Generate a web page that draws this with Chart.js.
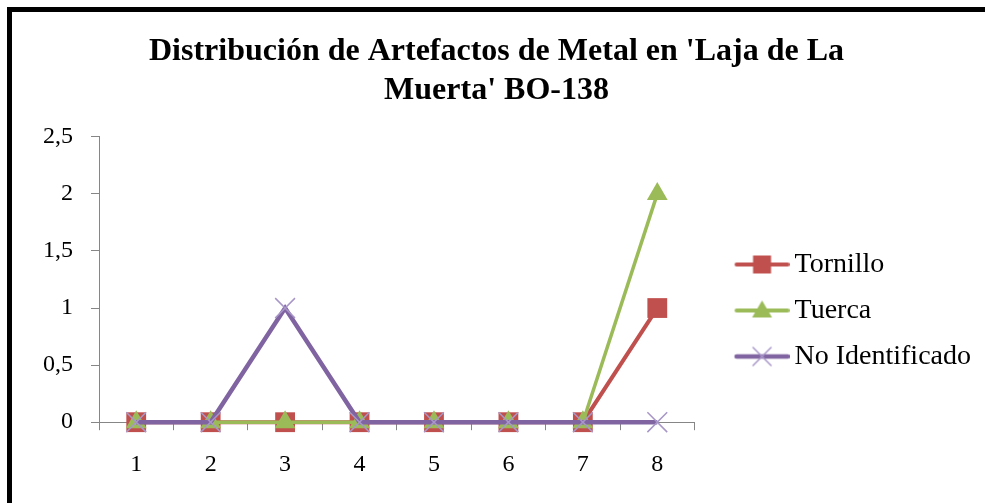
<!DOCTYPE html>
<html>
<head>
<meta charset="utf-8">
<script src="https://cdn.jsdelivr.net/npm/chart.js@4"></script>
<style>
  html, body { margin: 0; padding: 0; background: #fff; }
  #frame {
    position: absolute; left: 7px; top: 7px;
    width: 973px; height: 491px;
    border-top: 5px solid #000; border-left: 5px solid #000;
  }
  canvas { display: block; }
</style>
</head>
<body>
<div id="frame"><canvas id="chart" width="973" height="491"></canvas></div>
<script>
// Distribución de Artefactos de Metal — Laja de La Muerta BO-138

const categories = ['1', '2', '3', '4', '5', '6', '7', '8'];
const tornillo = [0, 0, 0, 0, 0, 0, 0, 1];
const tuerca = [0, 0, 0, 0, 0, 0, 0, 2];
const noIdentificado = [0, 0, 1, 0, 0, 0, 0, 0];
const yTickLabels = ['0', '0,5', '1', '1,5', '2', '2,5'];
const titleLines = ["Distribución de Artefactos de Metal en 'Laja de La", "Muerta' BO-138"];

const COLORS = {
  red: '#C0504D',
  green: '#9BBB59',
  purple: '#8064A2',
  purpleLight: '#A796C7',
  axis: '#868686',
};

const SERIF = "'Liberation Serif', 'Times New Roman', serif";

// legend icon: short line with the series marker in the middle
function legendIcon(color, lineWidth, marker) {
  const c = document.createElement('canvas');
  c.width = 86; c.height = 24;
  const g = c.getContext('2d');
  g.strokeStyle = color;
  g.lineWidth = lineWidth;
  g.lineCap = 'round';
  g.beginPath(); g.moveTo(33, 12); g.lineTo(84, 12); g.stroke();
  const cx = 58.5, cy = 12;
  if (marker === 'rect') {
    g.fillStyle = color;
    g.fillRect(cx - 9, cy - 9, 18, 18);
  } else if (marker === 'triangle') {
    g.fillStyle = color;
    g.beginPath();
    g.moveTo(cx, cy - 10); g.lineTo(cx + 10, cy + 7); g.lineTo(cx - 10, cy + 7);
    g.closePath(); g.fill();
  } else {
    g.strokeStyle = COLORS.purpleLight;
    g.lineWidth = 1.5;
    g.beginPath();
    g.moveTo(cx - 9, cy - 9); g.lineTo(cx + 9, cy + 9);
    g.moveTo(cx + 9, cy - 9); g.lineTo(cx - 9, cy + 9);
    g.stroke();
  }
  return c;
}

const legendIcons = [
  legendIcon(COLORS.red, 4, 'rect'),
  legendIcon(COLORS.green, 4, 'triangle'),
  legendIcon(COLORS.purple, 4.5, 'cross'),
];

new Chart(document.getElementById('chart'), {
  type: 'line',
  data: {
    labels: categories,
    datasets: [
      {
        label: 'Tornillo',
        data: tornillo,
        borderColor: COLORS.red,
        borderWidth: 4,
        pointStyle: 'rect',
        pointRadius: 14,
        pointBackgroundColor: COLORS.red,
        pointBorderColor: COLORS.red,
        pointBorderWidth: 0,
        order: 2,
        clip: false,
      },
      {
        label: 'Tuerca',
        data: tuerca,
        borderColor: COLORS.green,
        borderWidth: 3.5,
        pointStyle: 'triangle',
        pointRadius: 12,
        pointBackgroundColor: COLORS.green,
        pointBorderColor: COLORS.green,
        pointBorderWidth: 0,
        order: 1,
        clip: false,
      },
      {
        label: 'No Identificado',
        data: noIdentificado,
        borderColor: COLORS.purple,
        borderWidth: 4.5,
        pointStyle: 'crossRot',
        pointRadius: 14,
        pointBorderColor: COLORS.purpleLight,
        pointBorderWidth: 1.5,
        order: 0,
        clip: false,
      },
    ]
  },
  options: {
    responsive: false,
    devicePixelRatio: 1,
    animation: false,
    layout: { padding: { left: 0, right: 4, top: 0, bottom: 4 } },
    plugins: {
      title: {
        display: true,
        text: titleLines,
        color: '#000',
        font: { family: SERIF, size: 32, weight: 'bold', lineHeight: 1.2 },
        padding: { top: 21, bottom: 27 },
      },
      legend: {
        position: 'right',
        maxWidth: 290,
        title: { display: true, text: ' ', font: { size: 10, lineHeight: 1.2 }, padding: { top: 98, bottom: 0 } },
        labels: {
          usePointStyle: true,
          pointStyleWidth: 68,
          padding: 18,
          color: '#000',
          font: { family: SERIF, size: 28 },
          sort: (a, b) => a.datasetIndex - b.datasetIndex,
          generateLabels: (chart) => {
            const items = Chart.defaults.plugins.legend.labels.generateLabels(chart);
            items.forEach(it => { it.pointStyle = legendIcons[it.datasetIndex]; });
            return items;
          }
        }
      },
      tooltip: { enabled: false }
    },
    scales: {
      x: {
        offset: true,
        grid: { offset: true, drawOnChartArea: false, tickLength: 8, color: COLORS.axis },
        border: { color: COLORS.axis, width: 1 },
        ticks: { color: '#000', padding: 20, font: { family: SERIF, size: 24 } },
      },
      y: {
        min: 0,
        max: 2.5,
        afterFit: (scale) => { scale.width = 87; },
        grid: { drawOnChartArea: false, tickLength: 8, color: COLORS.axis },
        border: { color: COLORS.axis, width: 1 },
        ticks: {
          stepSize: 0.5,
          color: '#000',
          padding: 18,
          font: { family: SERIF, size: 24 },
          callback: (v, i) => yTickLabels[i],
        },
      }
    }
  }
});
</script>
</body>
</html>
